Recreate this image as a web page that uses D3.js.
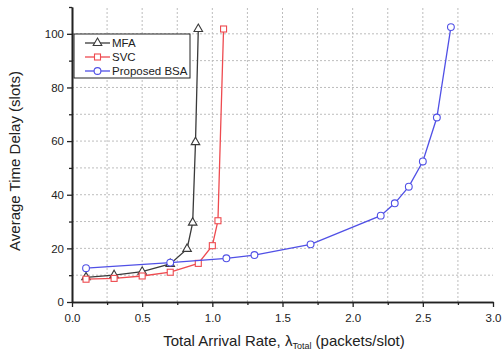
<!DOCTYPE html>
<html><head><meta charset="utf-8">
<script src="https://cdn.jsdelivr.net/npm/d3@7"></script>
<style>body{margin:0;background:#fff}svg{display:block}text{font-family:"Liberation Sans",Arial,sans-serif}</style>
</head><body>
<script>
const mfaX = [0.1, 0.3, 0.5, 0.7, 0.82, 0.86, 0.88, 0.9];
const mfaY = [9.2, 10.0, 11.3, 14.2, 19.8, 29.6, 59.6, 101.8];
const svcX = [0.1, 0.3, 0.5, 0.7, 0.9, 1.0, 1.04, 1.08];
const svcY = [8.5, 8.8, 9.7, 11.1, 14.4, 21.0, 30.3, 101.8];
const bsaX = [0.1, 0.7, 1.1, 1.3, 1.7, 2.2, 2.3, 2.4, 2.5, 2.6, 2.7];
const bsaY = [12.6, 14.7, 16.3, 17.5, 21.5, 32.2, 36.8, 43.0, 52.4, 68.8, 102.5];
const seriesNames = ["MFA", "SVC", "Proposed BSA"];
const xTicks = [0.0, 0.5, 1.0, 1.5, 2.0, 2.5, 3.0];
const yTicks = [0, 20, 40, 60, 80, 100];

const W = 503, H = 351;
const svg = d3.select("body").append("svg").attr("width", W).attr("height", H);
const x = d3.scaleLinear().domain([0, 3]).range([72, 493]);
const y = d3.scaleLinear().domain([0, 110]).range([302, 7]);

// grid
const g = svg.append("g");
const xGrid = d3.range(0.25, 3.0, 0.25);
const yGrid = d3.range(10, 101, 10);
g.selectAll(".vx").data(xGrid).enter().append("line")
  .attr("x1", d => x(d)).attr("x2", d => x(d)).attr("y1", y(0)).attr("y2", y(110))
  .attr("stroke", "#bdbdbd").attr("stroke-width", 1).attr("stroke-dasharray", "2,2");
g.selectAll(".hy").data(yGrid).enter().append("line")
  .attr("y1", d => y(d)).attr("y2", d => y(d)).attr("x1", x(0)).attr("x2", x(3))
  .attr("stroke", "#bdbdbd").attr("stroke-width", 1).attr("stroke-dasharray", "2,2");

// axes
const xAxis = svg.append("g").attr("transform", `translate(0,${y(0)})`)
  .call(d3.axisBottom(x).tickValues(xTicks).tickFormat(d3.format(".1f")).tickSize(5).tickSizeOuter(0));
const xMinor = svg.append("g").attr("transform", `translate(0,${y(0)})`)
  .call(d3.axisBottom(x).tickValues(d3.range(0.25, 3, 0.5)).tickFormat("").tickSize(3).tickSizeOuter(0));
const yAxis = svg.append("g").attr("transform", `translate(${x(0)},0)`)
  .call(d3.axisLeft(y).tickValues(yTicks).tickSize(5).tickSizeOuter(0));
const yMinor = svg.append("g").attr("transform", `translate(${x(0)},0)`)
  .call(d3.axisLeft(y).tickValues(d3.range(10, 111, 20)).tickFormat("").tickSize(3).tickSizeOuter(0));
[xAxis, xMinor, yAxis, yMinor].forEach(a => {
  a.selectAll("path").attr("stroke", "#222").attr("stroke-width", 1.6);
  a.selectAll("line").attr("stroke", "#222").attr("stroke-width", 1.3);
  a.selectAll("text").attr("font-size", 11.5).attr("fill", "#222");
});
xAxis.selectAll("text").attr("dy", "1.05em");

// series
const series = [
  {name: seriesNames[0], xs: mfaX, ys: mfaY, color: "#3a3a3a", marker: "tri"},
  {name: seriesNames[1], xs: svcX, ys: svcY, color: "#ee4a4f", marker: "sq"},
  {name: seriesNames[2], xs: bsaX, ys: bsaY, color: "#5050e6", marker: "circ"}
];
const line = d3.line().x(d => x(d[0])).y(d => y(d[1]));
function drawMarker(sel, type, color, cx, cy) {
  if (type === "tri") {
    sel.append("path").attr("d", d3.symbol(d3.symbolTriangle, 32)()).attr("transform", `translate(${cx},${cy})`)
      .attr("fill", "#fff").attr("stroke", color).attr("stroke-width", 1.1);
  } else if (type === "sq") {
    sel.append("rect").attr("x", cx - 3).attr("y", cy - 3).attr("width", 6).attr("height", 6)
      .attr("fill", "#fff").attr("stroke", color).attr("stroke-width", 1.1);
  } else {
    sel.append("circle").attr("cx", cx).attr("cy", cy).attr("r", 3.4)
      .attr("fill", "#fff").attr("stroke", color).attr("stroke-width", 1.1);
  }
}
series.forEach(s => {
  const pts = s.xs.map((v, i) => [v, s.ys[i]]);
  svg.append("path").datum(pts).attr("d", line).attr("fill", "none").attr("stroke", s.color).attr("stroke-width", 1.3);
  const mg = svg.append("g");
  pts.forEach(p => drawMarker(mg, s.marker, s.color, x(p[0]), y(p[1])));
});

// legend
const lg = svg.append("g");
lg.append("rect").attr("x", 74).attr("y", 34).attr("width", 116).attr("height", 44)
  .attr("fill", "#fff").attr("stroke", "#222").attr("stroke-width", 1);
series.forEach((s, i) => {
  const ly = 43 + i * 14;
  lg.append("line").attr("x1", 85).attr("x2", 110).attr("y1", ly).attr("y2", ly).attr("stroke", s.color).attr("stroke-width", 1.3);
  drawMarker(lg, s.marker, s.color, 97.5, ly);
  lg.append("text").attr("x", 112).attr("y", ly + 4).attr("font-size", 11.5).attr("fill", "#222").text(s.name);
});

// axis titles
svg.append("text").attr("transform", "translate(20,161) rotate(-90)").attr("text-anchor", "middle")
  .attr("font-size", 15).attr("fill", "#222").text("Average Time Delay (slots)");
const xt = svg.append("text").attr("x", 284).attr("y", 346).attr("text-anchor", "middle")
  .attr("font-size", 15).attr("fill", "#222");
xt.append("tspan").text("Total Arrival Rate, λ");
xt.append("tspan").attr("font-size", 9).attr("dy", 3).text("Total");
xt.append("tspan").attr("dy", -3).text(" (packets/slot)");
</script>
</body></html>
